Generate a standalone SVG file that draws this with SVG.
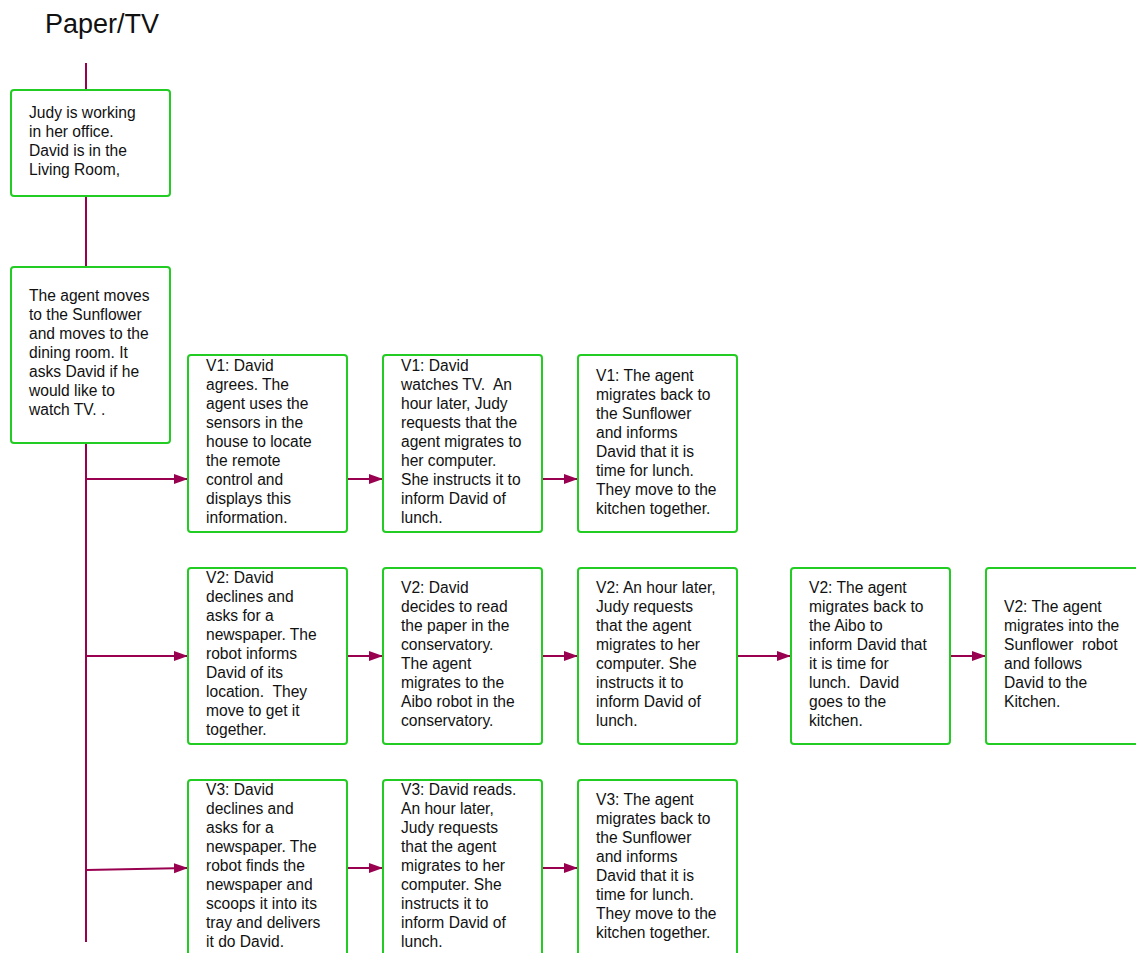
<svg xmlns="http://www.w3.org/2000/svg" width="1136" height="953" viewBox="0 0 1136 953">
<style>
.box{fill:#fff;stroke:#22cc22;stroke-width:2}
.t{font-family:"Liberation Sans",Arial,sans-serif;font-size:15.6px;fill:#111;white-space:pre}
.c{stroke:#990050;stroke-width:2;fill:none}
.title{font-family:"Liberation Sans",Arial,sans-serif;font-size:27px;fill:#111}
</style>
<defs>
<marker id="ah" markerUnits="userSpaceOnUse" markerWidth="14" markerHeight="12" refX="14" refY="5" orient="auto">
<path d="M0,0 L14,5 L0,10 z" fill="#990050"/>
</marker>
</defs>
<rect width="1136" height="953" fill="#fff"/>
<text class="title" x="45" y="33">Paper/TV</text>
<g id="connectors">
<line class="c" x1="86" y1="63" x2="86" y2="90"/>
<line class="c" x1="86" y1="196" x2="86" y2="267"/>
<line class="c" x1="86" y1="443" x2="86" y2="942"/>
<line class="c" x1="86" y1="479" x2="188" y2="479" marker-end="url(#ah)"/>
<line class="c" x1="86" y1="656" x2="188" y2="656" marker-end="url(#ah)"/>
<line class="c" x1="86" y1="870" x2="188" y2="868" marker-end="url(#ah)"/>
<line class="c" x1="347" y1="479" x2="383" y2="479" marker-end="url(#ah)"/>
<line class="c" x1="542" y1="479" x2="578" y2="479" marker-end="url(#ah)"/>
<line class="c" x1="347" y1="656" x2="383" y2="656" marker-end="url(#ah)"/>
<line class="c" x1="540" y1="656" x2="578" y2="656" marker-end="url(#ah)"/>
<line class="c" x1="737" y1="656" x2="791" y2="656" marker-end="url(#ah)"/>
<line class="c" x1="950" y1="656" x2="986" y2="656" marker-end="url(#ah)"/>
<line class="c" x1="347" y1="868" x2="383" y2="868" marker-end="url(#ah)"/>
<line class="c" x1="542" y1="868" x2="578" y2="868" marker-end="url(#ah)"/>
</g>
<g id="n1">
<rect class="box" x="11" y="90" width="159" height="106" rx="3"/>
<text class="t"><tspan x="29" y="118">Judy is working</tspan><tspan x="29" y="137">in her office.</tspan><tspan x="29" y="156">David is in the</tspan><tspan x="29" y="175">Living Room,</tspan></text>
</g>
<g id="n2">
<rect class="box" x="11" y="267" width="159" height="176" rx="3"/>
<text class="t"><tspan x="29" y="301">The agent moves</tspan><tspan x="29" y="320">to the Sunflower</tspan><tspan x="29" y="339">and moves to the</tspan><tspan x="29" y="358">dining room. It</tspan><tspan x="29" y="377">asks David if he</tspan><tspan x="29" y="396">would like to</tspan><tspan x="29" y="415">watch TV. .</tspan></text>
</g>
<g id="v1a">
<rect class="box" x="188" y="355" width="159" height="177" rx="3"/>
<text class="t"><tspan x="206" y="371">V1: David</tspan><tspan x="206" y="390">agrees. The</tspan><tspan x="206" y="409">agent uses the</tspan><tspan x="206" y="428">sensors in the</tspan><tspan x="206" y="447">house to locate</tspan><tspan x="206" y="466">the remote</tspan><tspan x="206" y="485">control and</tspan><tspan x="206" y="504">displays this</tspan><tspan x="206" y="523">information.</tspan></text>
</g>
<g id="v1b">
<rect class="box" x="383" y="355" width="159" height="177" rx="3"/>
<text class="t"><tspan x="401" y="371">V1: David</tspan><tspan x="401" y="390">watches TV.  An</tspan><tspan x="401" y="409">hour later, Judy</tspan><tspan x="401" y="428">requests that the</tspan><tspan x="401" y="447">agent migrates to</tspan><tspan x="401" y="466">her computer.</tspan><tspan x="401" y="485">She instructs it to</tspan><tspan x="401" y="504">inform David of</tspan><tspan x="401" y="523">lunch.</tspan></text>
</g>
<g id="v1c">
<rect class="box" x="578" y="355" width="159" height="177" rx="3"/>
<text class="t"><tspan x="596" y="381">V1: The agent</tspan><tspan x="596" y="400">migrates back to</tspan><tspan x="596" y="419">the Sunflower</tspan><tspan x="596" y="438">and informs</tspan><tspan x="596" y="457">David that it is</tspan><tspan x="596" y="476">time for lunch.</tspan><tspan x="596" y="495">They move to the</tspan><tspan x="596" y="514">kitchen together.</tspan></text>
</g>
<g id="v2a">
<rect class="box" x="188" y="568" width="159" height="176" rx="3"/>
<text class="t"><tspan x="206" y="583">V2: David</tspan><tspan x="206" y="602">declines and</tspan><tspan x="206" y="621">asks for a</tspan><tspan x="206" y="640">newspaper. The</tspan><tspan x="206" y="659">robot informs</tspan><tspan x="206" y="678">David of its</tspan><tspan x="206" y="697">location.  They</tspan><tspan x="206" y="716">move to get it</tspan><tspan x="206" y="735">together.</tspan></text>
</g>
<g id="v2b">
<rect class="box" x="383" y="568" width="159" height="176" rx="3"/>
<text class="t"><tspan x="401" y="593">V2: David</tspan><tspan x="401" y="612">decides to read</tspan><tspan x="401" y="631">the paper in the</tspan><tspan x="401" y="650">conservatory.</tspan><tspan x="401" y="669">The agent</tspan><tspan x="401" y="688">migrates to the</tspan><tspan x="401" y="707">Aibo robot in the</tspan><tspan x="401" y="726">conservatory.</tspan></text>
</g>
<g id="v2c">
<rect class="box" x="578" y="568" width="159" height="176" rx="3"/>
<text class="t"><tspan x="596" y="593">V2: An hour later,</tspan><tspan x="596" y="612">Judy requests</tspan><tspan x="596" y="631">that the agent</tspan><tspan x="596" y="650">migrates to her</tspan><tspan x="596" y="669">computer. She</tspan><tspan x="596" y="688">instructs it to</tspan><tspan x="596" y="707">inform David of</tspan><tspan x="596" y="726">lunch.</tspan></text>
</g>
<g id="v2d">
<rect class="box" x="791" y="568" width="159" height="176" rx="3"/>
<text class="t"><tspan x="809" y="593">V2: The agent</tspan><tspan x="809" y="612">migrates back to</tspan><tspan x="809" y="631">the Aibo to</tspan><tspan x="809" y="650">inform David that</tspan><tspan x="809" y="669">it is time for</tspan><tspan x="809" y="688">lunch.  David</tspan><tspan x="809" y="707">goes to the</tspan><tspan x="809" y="726">kitchen.</tspan></text>
</g>
<g id="v2e">
<rect class="box" x="986" y="568" width="159" height="176" rx="3"/>
<text class="t"><tspan x="1004" y="612">V2: The agent</tspan><tspan x="1004" y="631">migrates into the</tspan><tspan x="1004" y="650">Sunflower  robot</tspan><tspan x="1004" y="669">and follows</tspan><tspan x="1004" y="688">David to the</tspan><tspan x="1004" y="707">Kitchen.</tspan></text>
</g>
<g id="v3a">
<rect class="box" x="188" y="780" width="159" height="190" rx="3"/>
<text class="t"><tspan x="206" y="795">V3: David</tspan><tspan x="206" y="814">declines and</tspan><tspan x="206" y="833">asks for a</tspan><tspan x="206" y="852">newspaper. The</tspan><tspan x="206" y="871">robot finds the</tspan><tspan x="206" y="890">newspaper and</tspan><tspan x="206" y="909">scoops it into its</tspan><tspan x="206" y="928">tray and delivers</tspan><tspan x="206" y="947">it do David.</tspan></text>
</g>
<g id="v3b">
<rect class="box" x="383" y="780" width="159" height="190" rx="3"/>
<text class="t"><tspan x="401" y="795">V3: David reads.</tspan><tspan x="401" y="814">An hour later,</tspan><tspan x="401" y="833">Judy requests</tspan><tspan x="401" y="852">that the agent</tspan><tspan x="401" y="871">migrates to her</tspan><tspan x="401" y="890">computer. She</tspan><tspan x="401" y="909">instructs it to</tspan><tspan x="401" y="928">inform David of</tspan><tspan x="401" y="947">lunch.</tspan></text>
</g>
<g id="v3c">
<rect class="box" x="578" y="780" width="159" height="190" rx="3"/>
<text class="t"><tspan x="596" y="805">V3: The agent</tspan><tspan x="596" y="824">migrates back to</tspan><tspan x="596" y="843">the Sunflower</tspan><tspan x="596" y="862">and informs</tspan><tspan x="596" y="881">David that it is</tspan><tspan x="596" y="900">time for lunch.</tspan><tspan x="596" y="919">They move to the</tspan><tspan x="596" y="938">kitchen together.</tspan></text>
</g>
</svg>
